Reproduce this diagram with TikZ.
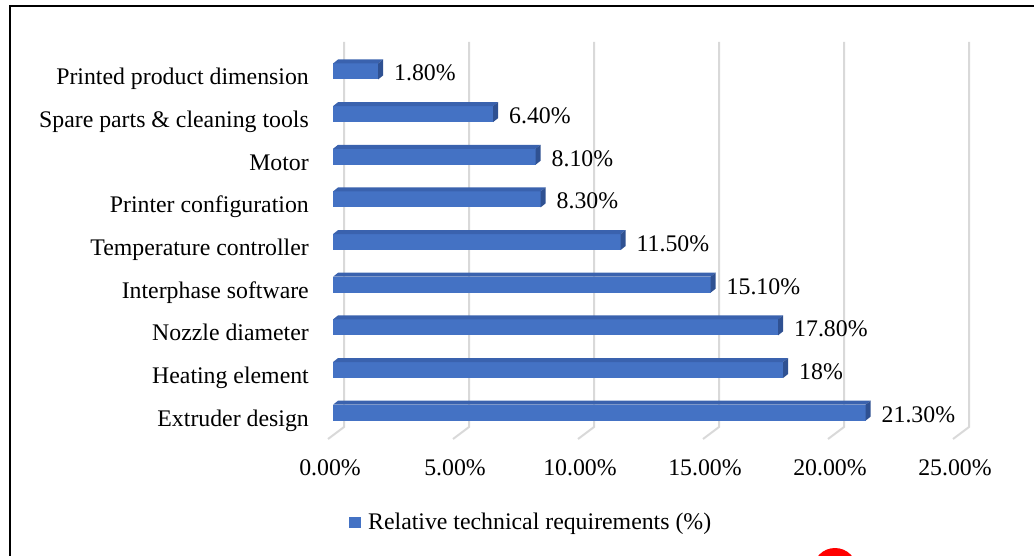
\documentclass[tikz,border=0pt]{standalone}
\usepackage{fontspec}
\setmainfont{Liberation Serif}
\definecolor{barfront}{HTML}{4472C4}
\definecolor{bartop}{HTML}{3A62AE}
\definecolor{barside}{HTML}{2F5192}
\definecolor{gridc}{HTML}{D9D9D9}
\begin{document}
\begin{tikzpicture}[x=1pt,y=-1pt, font=\fontsize{23.8}{28}\selectfont,
  gridline/.style={draw=gridc, line width=2pt},
  cat/.style={anchor=base east, inner sep=0pt},
  val/.style={anchor=base west, inner sep=0pt},
  ticklab/.style={anchor=base, inner sep=0pt},
  legtext/.style={anchor=base west, inner sep=0pt}]
\useasboundingbox (0,0) rectangle (1034,556);
\clip (0,0) rectangle (1034,556);
% frame
\draw[line width=2pt] (10,560) -- (10,6) -- (1040,6);
% gridlines and tick labels
\foreach \p [count=\k from 0] in {0,5,10,15,20,25} {
  \draw[gridline] (344+125*\k,42) -- (344+125*\k,427) -- (328+125*\k,439);
  \node[ticklab] (t\k) at (330+125*\k,475) {\p.00\%};
}
% bars
\foreach \v/\lab/\txt [count=\i from 0] in {
  1.8/Printed product dimension/1.80\%,
  6.4/Spare parts \& cleaning tools/6.40\%,
  8.1/Motor/8.10\%,
  8.3/Printer configuration/8.30\%,
  11.5/Temperature controller/11.50\%,
  15.1/Interphase software/15.10\%,
  17.8/Nozzle diameter/17.80\%,
  18/Heating element/18\%,
  21.3/Extruder design/21.30\%} {
  \pgfmathsetmacro{\yc}{71.5+42.65*\i}
  \pgfmathsetmacro{\xe}{333+25*\v}
  \fill[barfront] (333,\yc-8) rectangle (\xe,\yc+8);
  \fill[bartop] (333,\yc-8) -- (\xe,\yc-8) -- (\xe+5,\yc-12) -- (338,\yc-12) -- cycle;
  \fill[barside] (\xe,\yc-8) -- (\xe+5,\yc-12) -- (\xe+5,\yc+4) -- (\xe,\yc+8) -- cycle;
  \node[cat] (c\i) at (309,\yc+13.5) {\lab};
  \node[val] (v\i) at (\xe+16,\yc+9.3) {\txt};
}
% legend
\fill[barfront] (349,517) rectangle (361,528);
\node[legtext] (leg) at (368,529) {Relative technical requirements (\%)};
% red mark
\fill[red] (835,570) circle (22);
\end{tikzpicture}
\end{document}
